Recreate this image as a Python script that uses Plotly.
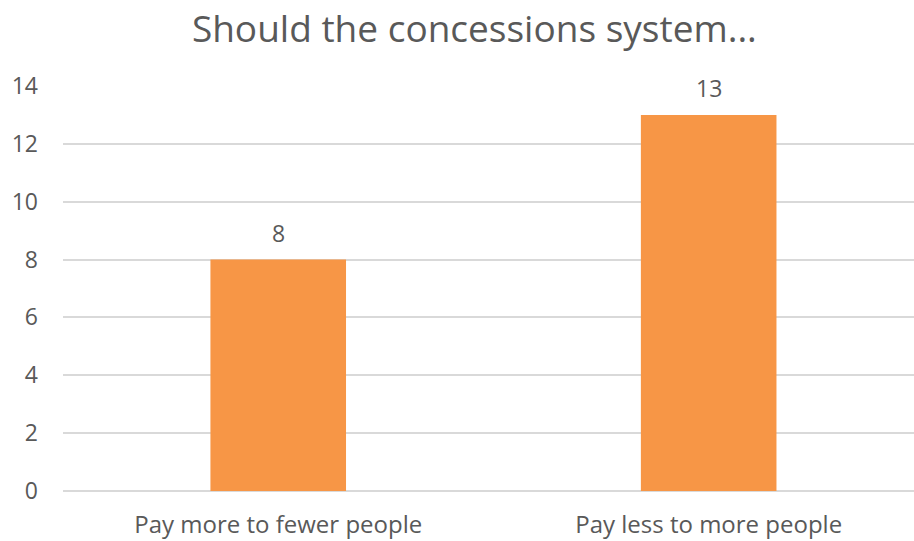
import plotly.graph_objects as go

# Survey responses
categories = ["Pay more to fewer people", "Pay less to more people"]
counts = [8, 13]
y_ticks = [0, 2, 4, 6, 8, 10, 12, 14]

TEXT = "#595959"
BAR = "#F79646"
GRID = "#D9D9D9"
FONT = "Open Sans"

fig = go.Figure(
    go.Bar(
        x=categories,
        y=counts,
        width=0.315,
        marker=dict(color=BAR, line=dict(width=0)),
        hoverinfo="skip",
    )
)

# value labels above each bar
for cat, val in zip(categories, counts):
    fig.add_annotation(
        x=cat, y=val, text=str(val), showarrow=False,
        yanchor="bottom", yshift=9,
        font=dict(family=FONT, size=23, color=TEXT),
    )

fig.update_layout(
    width=914, height=541,
    margin=dict(l=63, r=0, t=86, b=50),
    paper_bgcolor="white", plot_bgcolor="white",
    showlegend=False,
    title=dict(
        text="Should the concessions system...",
        x=0.519, xanchor="center", y=0.947, yanchor="middle",
        font=dict(family=FONT, size=37, color=TEXT),
    ),
    font=dict(family=FONT, color=TEXT),
)

fig.update_xaxes(
    range=[-0.5, 1.477],
    showgrid=False, zeroline=False, showline=False,
    ticks="", tickfont=dict(family=FONT, size=24, color=TEXT),
    ticklabelstandoff=17,
)
fig.update_yaxes(
    range=[0, 14], tickvals=y_ticks,
    showgrid=True, gridcolor=GRID, gridwidth=1.5,
    zeroline=True, zerolinecolor=GRID, zerolinewidth=1.5,
    showline=False, ticks="",
    tickfont=dict(family=FONT, size=23, color=TEXT),
    ticklabelstandoff=24,
)

fig.write_html("out.html")
